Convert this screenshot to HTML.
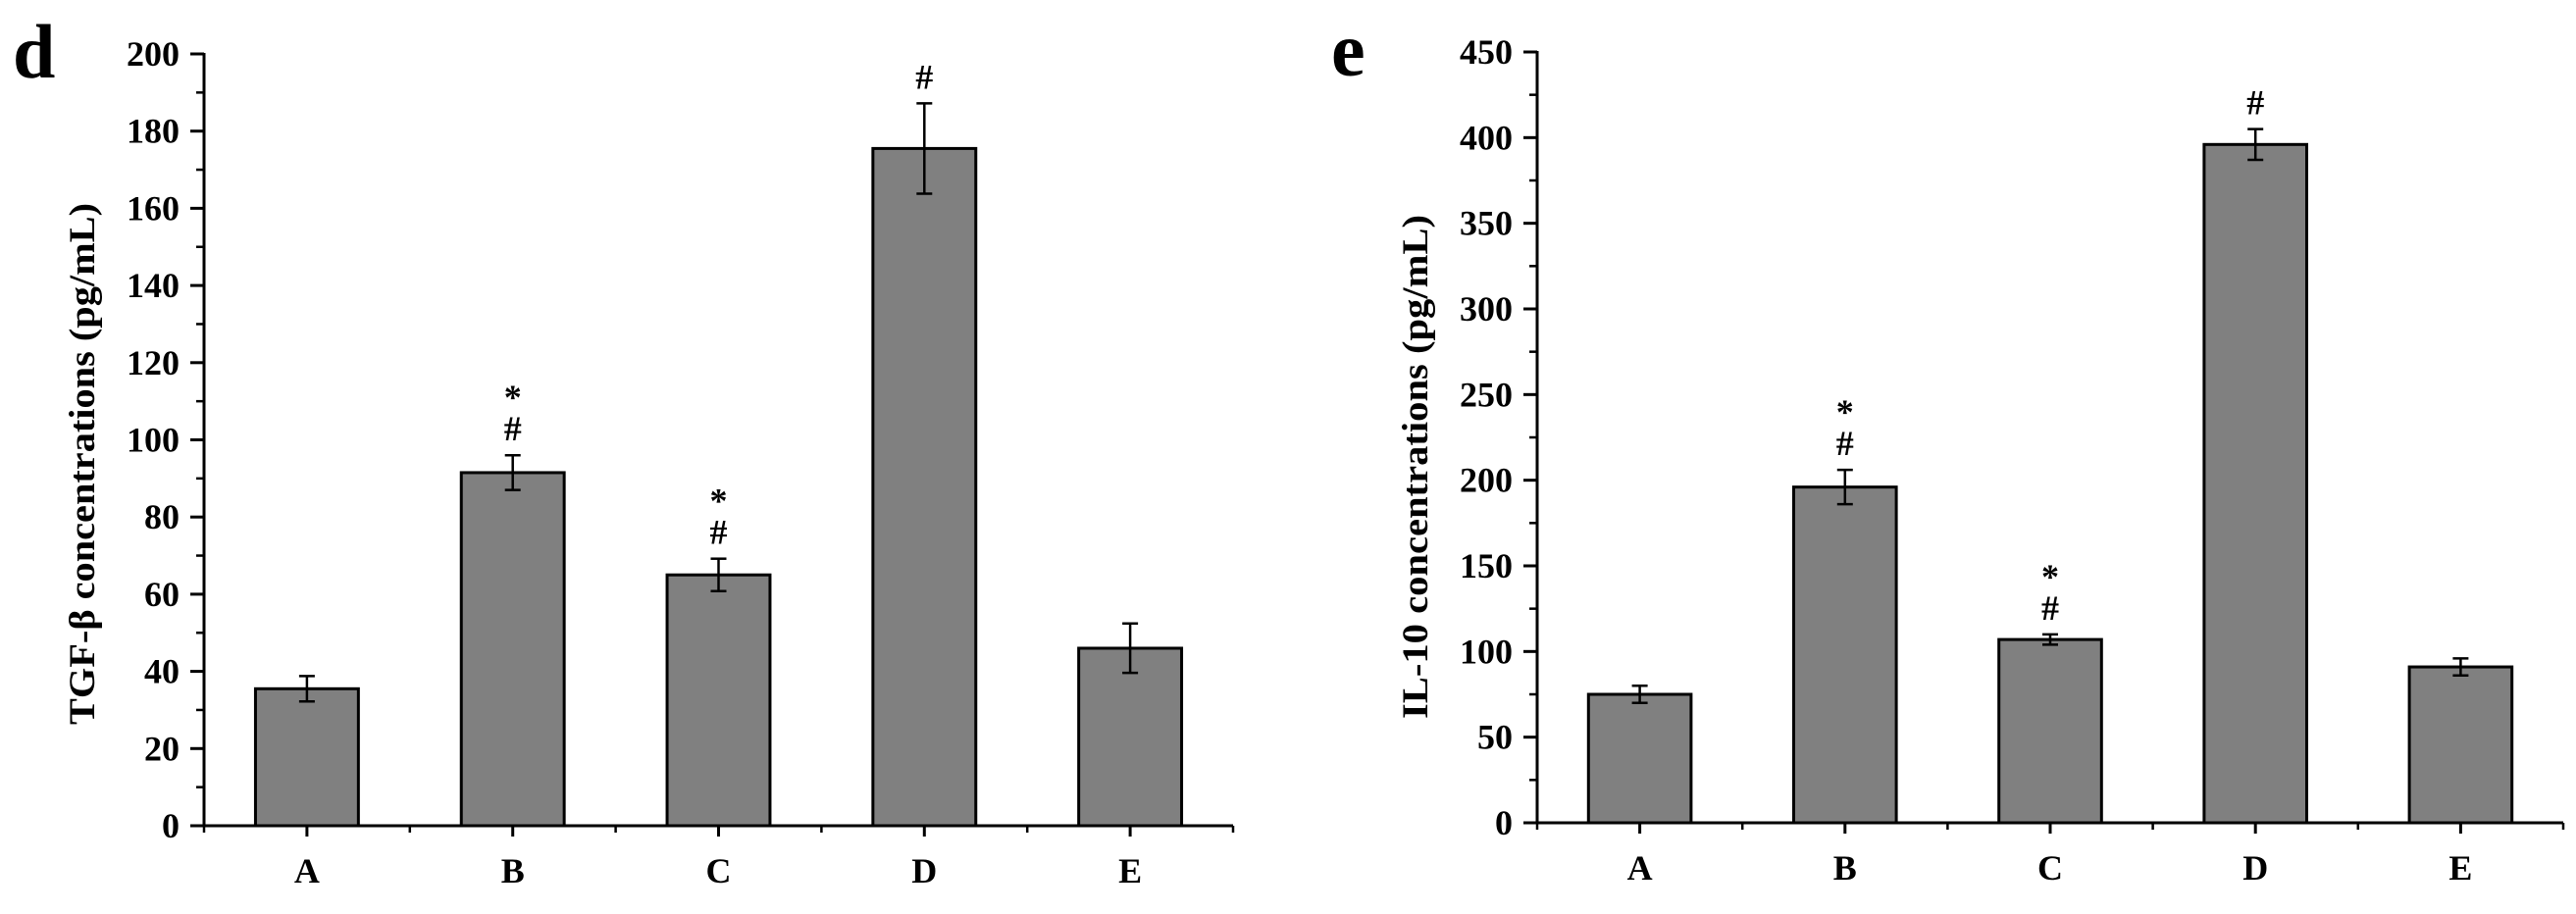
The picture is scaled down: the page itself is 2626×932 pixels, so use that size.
<!DOCTYPE html>
<html><head><meta charset="utf-8"><style>
html,body{margin:0;padding:0;background:#fff;overflow:hidden}
svg text{font-family:"Liberation Serif",serif;font-weight:bold;fill:#000}
</style></head><body>
<svg id="s" width="2626" height="927" viewBox="0 0 2626 927" xmlns="http://www.w3.org/2000/svg"></svg>
<script>
const categories = ["A","B","C","D","E"];
const tgfValues = [35.5, 91.5, 65, 175.5, 46];
const tgfErrors = [3.3, 4.5, 4.2, 11.7, 6.4];
const tgfTicks = [0,20,40,60,80,100,120,140,160,180,200];
const tgfMarks = ["", "*\n#", "*\n#", "#", ""];
const il10Values = [75, 196, 107, 396, 91];
const il10Errors = [5, 10, 3, 9, 5];
const il10Ticks = [0,50,100,150,200,250,300,350,400,450];
const il10Marks = ["", "*\n#", "*\n#", "#", ""];

const NS = "http://www.w3.org/2000/svg";
const svg = document.getElementById("s");
function mk(tag, attrs, parent){
  const e = document.createElementNS(NS, tag);
  for (const k in attrs) e.setAttribute(k, attrs[k]);
  (parent||svg).appendChild(e); return e;
}
function chart(o){
  const g = mk("g", {});
  
  
  const x0=o.x0, x1=o.x1, yTop=o.yTop, yBot=o.yBot, ymax=o.ticks[o.ticks.length-1];
  const ys = v => yBot - v/ymax*(yBot-yTop);
  const step = (x1-x0)/categories.length;
  const xc = i => x0 + (i+0.5)*step;
  const pl = mk("text", {x:o.letterX, y:o.letterY, "font-size":78}, g);
  pl.textContent = o.letter;
  
  
  categories.forEach((c,i)=>{
    const v=o.values[i], e=o.errors[i], bw=step*0.5;
    const r = mk("rect", {x:xc(i)-bw/2, y:ys(v), width:bw, height:yBot-ys(v), fill:"#808080", stroke:"#000", "stroke-width":3}, g);
    
    
    const eg = mk("g", {stroke:"#000","stroke-width":2.5}, g);
    
    
    mk("line",{x1:xc(i),x2:xc(i),y1:ys(v+e),y2:ys(v-e)},eg);
    mk("line",{x1:xc(i)-8,x2:xc(i)+8,y1:ys(v+e),y2:ys(v+e)},eg);
    mk("line",{x1:xc(i)-8,x2:xc(i)+8,y1:ys(v-e),y2:ys(v-e)},eg);
    const lines = o.marks[i] ? o.marks[i].split("\n") : [];
    const base = ys(v+e) - 15;
    lines.slice().reverse().forEach((t,k)=>{
      const tx = mk("text",{x:xc(i), y:base - k*32, "font-size":36, "text-anchor":"middle"}, g);
      tx.textContent = t;
      
      
    });
    const xl = mk("text",{x:xc(i), y:yBot+58, "font-size":36, "text-anchor":"middle"}, g);
    xl.textContent = c;
    
    
    mk("line",{x1:xc(i),x2:xc(i),y1:yBot,y2:yBot+11,stroke:"#000","stroke-width":3},g);
    mk("line",{x1:x0+(i+1)*step,x2:x0+(i+1)*step,y1:yBot,y2:yBot+7,stroke:"#000","stroke-width":2.5},g);
  });
  mk("line",{x1:x0,x2:x0,y1:yBot,y2:yBot+7,stroke:"#000","stroke-width":2.5},g);
  const ax = mk("line",{x1:x0,x2:x0,y1:yTop-1,y2:yBot+1,stroke:"#000","stroke-width":3},g);
  
  
  const xa = mk("line",{x1:x0-1,x2:x1,y1:yBot,y2:yBot,stroke:"#000","stroke-width":3},g);
  
  
  const tstep = o.ticks[1]-o.ticks[0];
  o.ticks.forEach((t,k)=>{
    mk("line",{x1:x0-14,x2:x0,y1:ys(t),y2:ys(t),stroke:"#000","stroke-width":3},g);
    if(k<o.ticks.length-1) mk("line",{x1:x0-8,x2:x0,y1:ys(t+tstep/2),y2:ys(t+tstep/2),stroke:"#000","stroke-width":2.5},g);
    const tl = mk("text",{x:x0-25, y:ys(t)+12, "font-size":36, "text-anchor":"end"}, g);
    tl.textContent = t;
    
    
  });
  const yt = mk("text",{x:0,y:0,"font-size":37,"text-anchor":"middle",textLength:o.titleLen,lengthAdjust:"spacingAndGlyphs",transform:`translate(${o.titleX},${o.titleY}) rotate(-90)`},g);
  yt.textContent = o.title;
  
  
}
chart({name:"tgf-chart", x0:208, x1:1257, yTop:55, yBot:842, ticks:tgfTicks, values:tgfValues, errors:tgfErrors, marks:tgfMarks, letter:"d", letterX:13, letterY:79, titleX:96, titleY:473, titleLen:532, title:"TGF-β concentrations (pg/mL)"});
chart({name:"il10-chart", x0:1567, x1:2613, yTop:53, yBot:839, ticks:il10Ticks, values:il10Values, errors:il10Errors, marks:il10Marks, letter:"e", letterX:1357, letterY:77, titleX:1455, titleY:476, titleLen:514, title:"IL-10 concentrations (pg/mL)"});
</script>
</body></html>
